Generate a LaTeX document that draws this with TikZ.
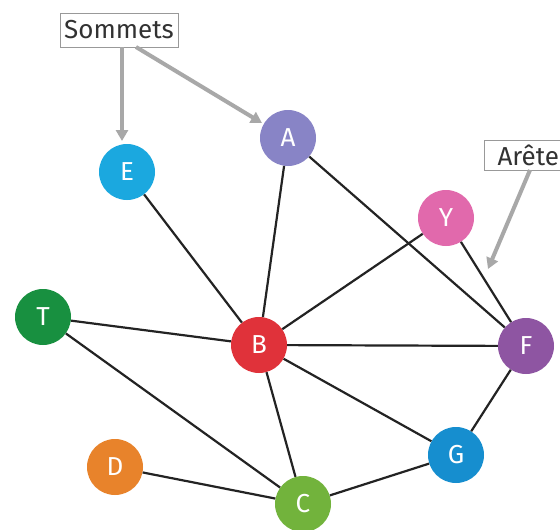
\documentclass[tikz,border=0pt]{standalone}
\usepackage{fontspec}
\setmainfont{Fira Sans}
\usetikzlibrary{arrows.meta}
\definecolor{cA}{RGB}{136,132,198}
\definecolor{cE}{RGB}{27,168,223}
\definecolor{cY}{RGB}{225,105,172}
\definecolor{cT}{RGB}{24,144,64}
\definecolor{cB}{RGB}{224,50,58}
\definecolor{cF}{RGB}{142,85,162}
\definecolor{cG}{RGB}{22,142,207}
\definecolor{cD}{RGB}{232,131,43}
\definecolor{cC}{RGB}{114,179,60}
\definecolor{edgecol}{RGB}{35,35,35}
\definecolor{pointer}{RGB}{168,168,168}
\definecolor{labtext}{RGB}{50,50,50}
\begin{document}
\begin{tikzpicture}[x=1pt,y=-1pt,
  vertex/.style={circle,minimum size=56pt,inner sep=0pt,text=white,
    font=\fontsize{26}{26}\selectfont},
  edge/.style={draw=edgecol,line width=2.2pt},
  pointerarrow/.style={draw=pointer,line width=4pt,
    -{Triangle[length=11pt,width=12pt]}},
  labelbox/.style={draw=gray!80,line width=1pt,fill=white,inner sep=0pt,
    text=labtext,font=\fontsize{26}{26}\selectfont}
  ]
\useasboundingbox (0,0) rectangle (560,530);
\fill[white] (0,0) rectangle (560,530);
% vertices
\node[vertex,fill=cA] (A) at (288,138) {A};
\node[vertex,fill=cE] (E) at (127,172) {E};
\node[vertex,fill=cY] (Y) at (446,218) {Y};
\node[vertex,fill=cT] (T) at (43,317) {T};
\node[vertex,fill=cB] (B) at (259,345) {B};
\node[vertex,fill=cF] (F) at (526,346) {F};
\node[vertex,fill=cG] (G) at (456,455) {G};
\node[vertex,fill=cD] (D) at (115,467) {D};
\node[vertex,fill=cC] (C) at (303,504) {C};
% edges
\draw[edge] (A) -- (B);
\draw[edge] (A) -- (F);
\draw[edge] (E) -- (B);
\draw[edge] (Y) -- (B);
\draw[edge] (Y) -- (F);
\draw[edge] (T) -- (B);
\draw[edge] (T) -- (C);
\draw[edge] (B) -- (F);
\draw[edge] (B) -- (G);
\draw[edge] (B) -- (C);
\draw[edge] (D) -- (C);
\draw[edge] (C) -- (G);
\draw[edge] (G) -- (F);
% labels
\node[labelbox,minimum width=118pt,minimum height=34pt] (som) at (119,30) {Sommets};
\node[labelbox,minimum width=84pt,minimum height=30pt,anchor=north west,
  text width=84pt,align=left] (are) at (484,140) {\hspace*{13pt}Arête};
\coordinate (somE) at (122,47);
\coordinate (somA) at (136,47);
\coordinate (areS) at (530,170);
\coordinate (tipE) at (122,141);
\coordinate (tipA) at (262,123);
\coordinate (tipR) at (488,269);
\draw[pointerarrow] (somE) -- (tipE);
\draw[pointerarrow] (somA) -- (tipA);
\draw[pointerarrow] (areS) -- (tipR);
\end{tikzpicture}
\end{document}
